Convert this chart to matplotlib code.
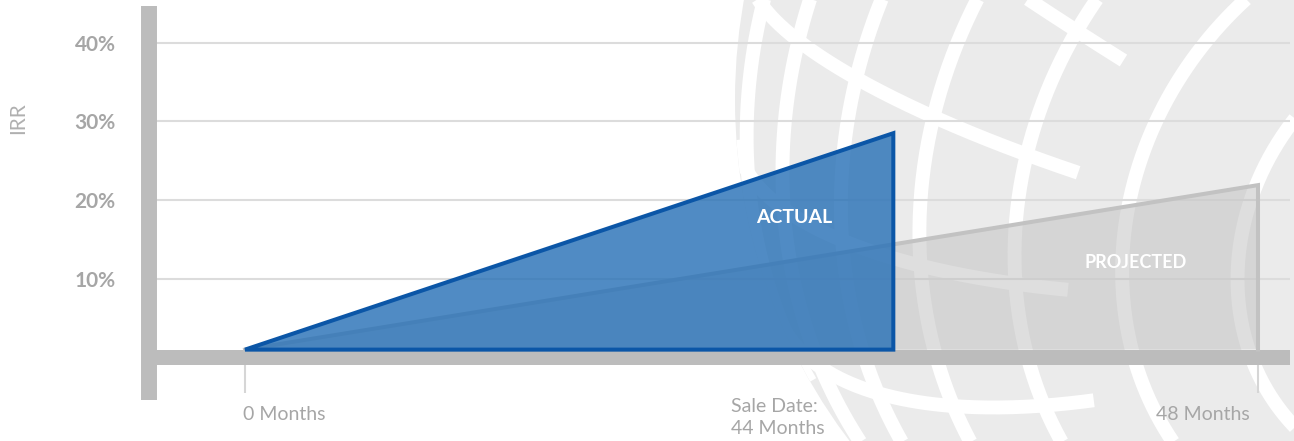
import matplotlib

matplotlib.use("Agg")

import matplotlib.pyplot as plt
import numpy as np
from matplotlib.patches import Circle

plt.rcParams["font.family"] = ["Lato", "DejaVu Sans"]

# timeline position: 0 = start of hold, 1 = 48 months; IRR in percent
actual_x = [0.0, 0.64, 0.64]
actual_irr = [1.0, 28.5, 1.0]
projected_x = [0.0, 1.0, 1.0]
projected_irr = [1.0, 21.9, 1.0]

y_ticks = [10, 20, 30, 40]
y_tick_labels = ["10%", "20%", "30%", "40%"]
x_ticks = [0.0, 1.0]
month_labels = ["0 Months", "Sale Date:\n44 Months", "48 Months"]

AXIS_GRAY = "#bcbcbc"
TEXT_GRAY = "#a6a6a6"
BLUE_EDGE = "#0b56a7"
BLUE_FILL = "#2a72b7"


def globe_points(basis, radius, lat, lon):
    e1, e2, n = basis
    lat = np.radians(np.atleast_1d(lat))[:, None]
    lon = np.radians(np.atleast_1d(lon))[:, None]
    pts = radius * (np.cos(lat) * np.cos(lon) * e1 + np.cos(lat) * np.sin(lon) * e2 + np.sin(lat) * n)
    pts[pts[:, 2] < 0] = np.nan
    return pts


def draw_watermark(fig):
    # faint globe logo behind the chart
    bg = fig.add_axes([0, 0, 1, 1], zorder=0)
    bg.set_xlim(0, 1294)
    bg.set_ylim(441, 0)
    bg.axis("off")

    cx, cy, r = 1300, 100, 565
    offset = np.array([190.0, 170.0])
    pole_dir = offset / np.hypot(*offset)
    tilt = np.arcsin(np.hypot(*offset) / r)
    n = np.array([np.sin(tilt) * pole_dir[0], np.sin(tilt) * pole_dir[1], np.cos(tilt)])
    e1 = np.cross(n, [0.0, 0.0, 1.0])
    e1 /= np.linalg.norm(e1)
    e2 = np.cross(n, e1)
    basis = (e1, e2, n)

    disk = Circle((cx, cy), r, facecolor="#ebebeb", edgecolor="none")
    bg.add_patch(disk)

    lons = np.linspace(0, 360, 721)
    for lat in (-8, 4, 16, 28, 40, 52, 64, 76):
        pts = globe_points(basis, r, np.full_like(lons, lat), lons)
        line, = bg.plot(cx + pts[:, 0], cy + pts[:, 1], color="white", lw=10, solid_capstyle="butt")
        line.set_clip_path(disk)

    lats = np.linspace(-40, 46, 200)
    for lon in np.arange(5, 365, 18):
        pts = globe_points(basis, r, lats, np.full_like(lats, lon))
        line, = bg.plot(cx + pts[:, 0], cy + pts[:, 1], color="white", lw=10, solid_capstyle="butt")
        line.set_clip_path(disk)


def main() -> None:
    fig = plt.figure(figsize=(12.94, 4.41), dpi=100)
    draw_watermark(fig)

    ax = fig.add_axes([149 / 1294, 1 - 400 / 441, 1141 / 1294, 394 / 441], zorder=1)
    ax.patch.set_alpha(0)
    ax.set_xlim(-0.0948, 1.0316)
    ax.set_ylim(-5.40, 44.66)

    for side in ("top", "right", "bottom"):
        ax.spines[side].set_visible(False)
    ax.spines["left"].set_color(AXIS_GRAY)
    ax.spines["left"].set_linewidth(11.5)
    ax.spines["left"].set_capstyle("butt")
    ax.spines["left"].set_zorder(4)

    ax.set_yticks(y_ticks, y_tick_labels)
    ax.tick_params(axis="y", length=0, pad=24, labelsize=15, labelcolor=TEXT_GRAY)
    for label in ax.get_yticklabels():
        label.set_fontweight("bold")
    ax.set_xticks([])
    ax.grid(True, axis="y", color="#dcdcdc", linewidth=1.5)
    ax.set_axisbelow(True)

    ax.axhline(0, color=AXIS_GRAY, linewidth=10.8, solid_capstyle="butt", zorder=2)
    ax.vlines(x_ticks, -4.5, -0.95, color="#d6d6d6", linewidth=1.5, zorder=2)

    ax.fill(projected_x, projected_irr, facecolor="#c4c4c4", alpha=0.55, edgecolor="none", zorder=3)
    ax.plot(projected_x, projected_irr, color="#c2c2c2", linewidth=2.9, solid_joinstyle="miter", zorder=3)

    ax.fill(actual_x, actual_irr, facecolor=BLUE_FILL, alpha=0.82, edgecolor="none", zorder=5)
    ax.fill(actual_x, actual_irr, facecolor="none", edgecolor=BLUE_EDGE, linewidth=2.9, joinstyle="miter", zorder=6)

    ax.text(0.542, 17.85, "ACTUAL", color="white", fontsize=14, fontweight="bold", ha="center", va="center", zorder=7)
    ax.text(0.879, 12.1, "PROJECTED", color="white", fontsize=13, fontweight="bold", ha="center", va="center", zorder=7)

    ax.text(-0.002, -7.18, month_labels[0], color=TEXT_GRAY, fontsize=14, ha="left", va="center", clip_on=False)
    ax.text(0.48, -7.62, month_labels[1], color=TEXT_GRAY, fontsize=14, ha="left", va="center",
            linespacing=1.3, clip_on=False)
    ax.text(0.992, -7.18, month_labels[2], color=TEXT_GRAY, fontsize=14, ha="right", va="center", clip_on=False)

    fig.text(18 / 1294, 1 - 118 / 441, "IRR", color="#b0b0b0", fontsize=15, rotation=90, ha="center", va="center")

    fig.savefig("out.png", dpi=100)
    plt.close(fig)


if __name__ == "__main__":
    main()
